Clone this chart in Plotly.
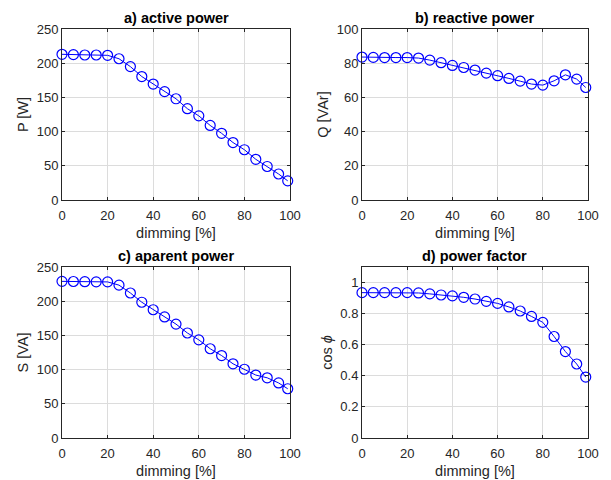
import plotly.graph_objects as go

dimming = [0, 5, 10, 15, 20, 25, 30, 35, 40, 45, 50, 55, 60, 65, 70, 75, 80, 85, 90, 95, 99]
P = [213, 212.5, 212, 212, 211.5, 206.5, 195, 180.5, 169.5, 158.5, 148, 133.5, 123, 109, 97.5, 84, 73.5, 59.5, 49, 38, 28]
Q = [83.6, 83.4, 83.3, 83.3, 83.3, 83.0, 81.8, 80.3, 78.7, 77.5, 76.0, 74.2, 72.7, 71.1, 69.5, 67.8, 67.2, 69.7, 73.2, 70.7, 65.8]
S = [229, 228.8, 228.5, 228.3, 228.2, 223.5, 212, 198.5, 187.5, 177, 166.5, 153.5, 143.5, 130.5, 120.5, 108.5, 100.5, 92, 88, 80.5, 72]
PF = [0.935, 0.935, 0.935, 0.935, 0.935, 0.933, 0.927, 0.92, 0.914, 0.905, 0.894, 0.879, 0.866, 0.843, 0.817, 0.782, 0.744, 0.653, 0.556, 0.476, 0.392]

titles = ["a) active power", "b) reactive power", "c) aparent power", "d) power factor"]
ylabels = ["P [W]", "Q [VAr]", "S [VA]", "cos <i>ϕ</i>"]
yranges = [[0, 250], [0, 100], [0, 250], [0, 1.1]]
ytickvals = [[0, 50, 100, 150, 200, 250], [0, 20, 40, 60, 80, 100], [0, 50, 100, 150, 200, 250], [0, 0.2, 0.4, 0.6, 0.8, 1]]
ytext = [None, None, None, ["0", "0.2", "0.4", "0.6", "0.8", "1"]]
series = [P, Q, S, PF]

# page body has an 8px margin, so the figure is 603x472 placed at (8, 8)
W, H = 603, 472
OFF = 8
def xd(a, b):
    return [(a - OFF) / W, (b - OFF) / W]
def yd(top, bot):
    return [1 - (bot - OFF) / H, 1 - (top - OFF) / H]

xdoms = [xd(62, 290), xd(362, 588), xd(62, 290), xd(362, 588)]
ydoms = [yd(29, 200), yd(29, 200), yd(267, 438), yd(267, 438)]

axc = "#262626"
gridc = "#dcdcdc"
font = "Liberation Sans, Arial, sans-serif"

fig = go.Figure()
for i in range(4):
    xa = "x" if i == 0 else f"x{i+1}"
    ya = "y" if i == 0 else f"y{i+1}"
    fig.add_trace(go.Scatter(
        x=dimming, y=series[i], xaxis=xa, yaxis=ya, mode="lines+markers",
        line=dict(color="#0000ff", width=1),
        marker=dict(symbol="circle-open", size=10, color="#0000ff", line=dict(width=1.2)),
        showlegend=False, cliponaxis=False))
    xkey = "xaxis" if i == 0 else f"xaxis{i+1}"
    ykey = "yaxis" if i == 0 else f"yaxis{i+1}"
    common = dict(showline=True, linecolor=axc, linewidth=1, mirror="ticks",
                  ticks="inside", ticklen=3, tickcolor=axc, showgrid=True,
                  gridcolor=gridc, gridwidth=1, zeroline=False, automargin=False,
                  tickfont=dict(family=font, size=13, color=axc))
    fig.update_layout(**{
        xkey: dict(domain=xdoms[i], anchor=ya, range=[0, 100],
                   tickvals=[0, 20, 40, 60, 80, 100], ticklabelstandoff=3,
                   title=dict(text="dimming [%]", font=dict(family=font, size=14.5, color=axc), standoff=6),
                   **common),
        ykey: dict(domain=ydoms[i], anchor=xa, range=yranges[i],
                   tickvals=ytickvals[i], ticktext=ytext[i],
                   title=dict(text=ylabels[i], font=dict(family=font, size=14.5, color=axc), standoff=4),
                   **common),
    })
    fig.add_annotation(x=(xdoms[i][0] + xdoms[i][1]) / 2, y=ydoms[i][1], xref="paper", yref="paper",
                       text=f"<b>{titles[i]}</b>", showarrow=False, xanchor="center",
                       yanchor="bottom", yshift=1,
                       font=dict(family=font, size=14.5, color="#000000"))

fig.update_layout(width=W, height=H, margin=dict(l=0, r=0, t=0, b=0, autoexpand=False),
                  paper_bgcolor="white", plot_bgcolor="white")
fig.write_html("out.html")
